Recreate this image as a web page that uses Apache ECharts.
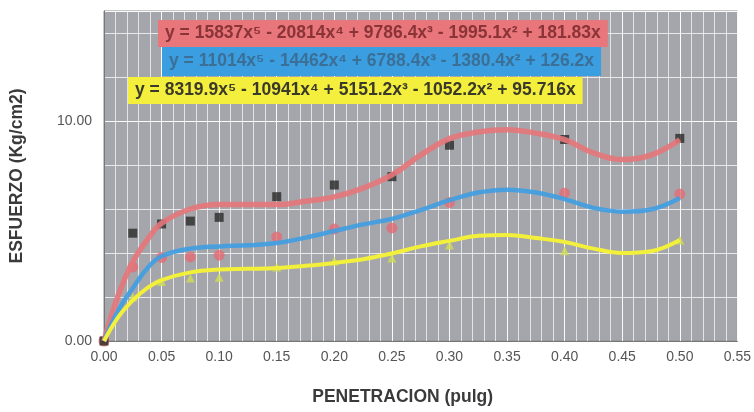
<!DOCTYPE html>
<html>
<head>
<meta charset="utf-8">
<script src="https://cdn.jsdelivr.net/npm/echarts@6/dist/echarts.min.js"></script>
<style>
html,body{margin:0;padding:0;background:#fff;}
#chart{width:754px;height:412px;}
</style>
</head>
<body>
<div id="chart"></div>
<script>
// Measured points
const penetracion = [0, 0.025, 0.05, 0.075, 0.1, 0.15, 0.2, 0.25, 0.3, 0.4, 0.5];
const esfuerzo1 = [0, 4.9, 5.32, 5.45, 5.62, 6.56, 7.09, 7.47, 8.9, 9.16, 9.21];
const esfuerzo2 = [0, 3.36, 3.8, 3.82, 3.9, 4.73, 5.09, 5.14, 6.3, 6.72, 6.68];
const esfuerzo3 = [0, 2.0, 2.7, 2.86, 2.9, 3.36, 3.64, 3.77, 4.36, 4.1, 4.59];

// Trendline positions
const trendX = [0, 0.0125, 0.025, 0.0375, 0.05, 0.075, 0.1, 0.125, 0.15, 0.175, 0.2, 0.225, 0.25, 0.275, 0.3, 0.325, 0.35, 0.375, 0.4, 0.425, 0.45, 0.475, 0.5];
const trendRed = [0, 2.1, 3.6, 4.6, 5.35, 6.0, 6.2, 6.2, 6.2, 6.35, 6.55, 6.95, 7.55, 8.45, 9.2, 9.5, 9.6, 9.45, 9.15, 8.55, 8.25, 8.45, 9.15];
const trendBlue = [0, 1.4, 2.4, 3.3, 3.85, 4.2, 4.3, 4.35, 4.45, 4.7, 5.0, 5.3, 5.55, 5.95, 6.4, 6.75, 6.88, 6.75, 6.45, 6.05, 5.88, 5.98, 6.5];
const trendYellow = [0, 1.1, 1.85, 2.4, 2.77, 3.12, 3.25, 3.28, 3.32, 3.42, 3.55, 3.72, 3.98, 4.3, 4.55, 4.78, 4.82, 4.68, 4.5, 4.2, 4.0, 4.08, 4.59];

const eqRed = 'y = 15837x\u2075 - 20814x\u2074 + 9786.4x\u00B3 - 1995.1x\u00B2 + 181.83x';
const eqBlue = 'y = 11014x\u2075 - 14462x\u2074 + 6788.4x\u00B3 - 1380.4x\u00B2 + 126.2x';
const eqYellow = 'y = 8319.9x\u2075 - 10941x\u2074 + 5151.2x\u00B3 - 1052.2x\u00B2 + 95.716x';

const xName = 'PENETRACION (pulg)';
const yName = 'ESFUERZO (Kg/cm2)';

const pair = (xs, ys) => xs.map((x, i) => [x, ys[i]]);
const FONT = '"Liberation Sans", Arial, sans-serif';

const chart = echarts.init(document.getElementById('chart'), null, {renderer: 'canvas'});
chart.setOption({
  animation: false,
  backgroundColor: '#ffffff',
  textStyle: {fontFamily: FONT},
  grid: {left: 104, right: 11, top: 11, bottom: 71, show: true, backgroundColor: '#a5a6ab', borderColor: '#8c8c8c', borderWidth: 1},
  title: [
    {text: eqRed, left: 158, top: 20, backgroundColor: '#e8767b', padding: [4, 7, 4, 7],
      textStyle: {fontSize: 17.5, fontWeight: 'bold', color: '#8a3438', fontFamily: FONT, lineHeight: 19}},
    {text: eqBlue, left: 162, top: 47, backgroundColor: '#3b9ee0', padding: [5, 7, 5, 7],
      textStyle: {fontSize: 17.5, fontWeight: 'bold', color: '#3b6f96', fontFamily: FONT, lineHeight: 19}},
    {text: eqYellow, left: 128, top: 77, backgroundColor: '#f4ee3c', padding: [4, 7, 4, 7],
      textStyle: {fontSize: 17.5, fontWeight: 'bold', color: '#3a3a2a', fontFamily: FONT, lineHeight: 19}}
  ],
  xAxis: {
    type: 'value', min: 0, max: 0.55, interval: 0.05,
    name: xName, nameLocation: 'middle', nameGap: 47,
    nameTextStyle: {fontSize: 17.5, fontWeight: 'bold', color: '#3a3a3a', fontFamily: FONT, padding: [0, 36, 0, 0]},
    axisLine: {show: true, lineStyle: {color: '#777', width: 1}},
    axisTick: {show: false},
    axisLabel: {formatter: v => v.toFixed(2), fontSize: 14, color: '#555', margin: 9, fontFamily: FONT},
    splitLine: {show: true, lineStyle: {color: 'rgba(255,255,255,0.95)', width: 1}},
    minorTick: {show: false, splitNumber: 5},
    minorSplitLine: {show: true, lineStyle: {color: 'rgba(255,255,255,0.7)', width: 1}}
  },
  yAxis: {
    type: 'value', min: 0, max: 15, interval: 10,
    name: yName, nameLocation: 'middle', nameGap: 78, nameRotate: 90,
    nameTextStyle: {fontSize: 17.5, fontWeight: 'bold', color: '#3a3a3a', fontFamily: FONT},
    axisLine: {show: true, lineStyle: {color: '#777', width: 1}},
    axisTick: {show: false},
    axisLabel: {formatter: v => v.toFixed(2), fontSize: 14, color: '#555', margin: 12, showMaxLabel: false, fontFamily: FONT},
    splitLine: {show: true, lineStyle: {color: 'rgba(255,255,255,0.95)', width: 1}},
    minorTick: {show: false, splitNumber: 5},
    minorSplitLine: {show: true, lineStyle: {color: 'rgba(255,255,255,0.75)', width: 1}}
  },
  series: [
    {type: 'scatter', data: pair(penetracion, esfuerzo3), symbol: 'triangle', symbolSize: 9,
      itemStyle: {color: '#cfdc55'}, z: 2},
    {type: 'scatter', data: pair(penetracion, esfuerzo2), symbol: 'circle', symbolSize: 11,
      itemStyle: {color: '#e46d76'}, z: 2},
    {type: 'scatter', data: pair(penetracion, esfuerzo1), symbol: 'rect', symbolSize: 9,
      itemStyle: {color: '#2a2a2a'}, z: 2},
    {type: 'line', data: pair(trendX, trendRed), smooth: 0.4, showSymbol: false, symbol: 'none',
      lineStyle: {color: '#e5777a', width: 5.5, opacity: 0.9}, z: 3},
    {type: 'line', data: pair(trendX, trendBlue), smooth: 0.4, showSymbol: false, symbol: 'none',
      lineStyle: {color: '#3f9fe2', width: 4.5, opacity: 0.9}, z: 3},
    {type: 'line', data: pair(trendX, trendYellow), smooth: 0.4, showSymbol: false, symbol: 'none',
      lineStyle: {color: '#f2f03a', width: 4}, z: 3}
  ]
});
</script>
</body>
</html>
